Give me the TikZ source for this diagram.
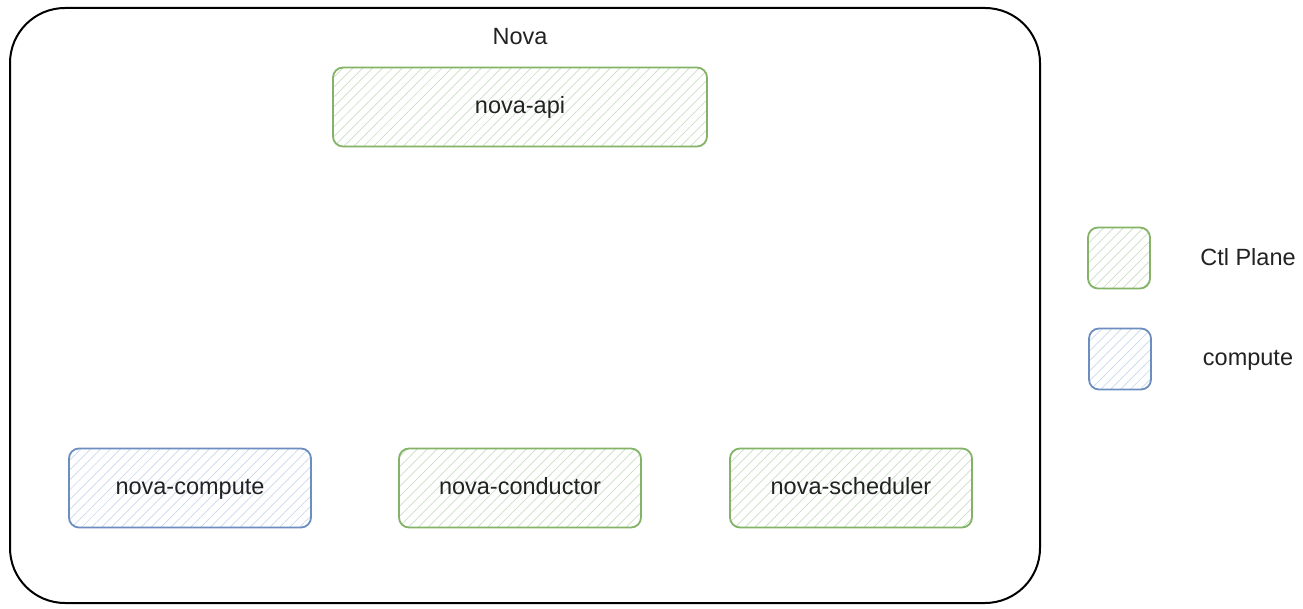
\documentclass[tikz,border=0pt]{standalone}
\usepackage{fontspec}
\setmainfont{Liberation Sans}
\usetikzlibrary{patterns.meta}

\definecolor{ctlgreen}{HTML}{82B366}
\definecolor{ctlhatch}{HTML}{C9DEC3}
\definecolor{cpublue}{HTML}{6C8EBF}
\definecolor{cpuhatch}{HTML}{C8D7EE}
\definecolor{inktext}{HTML}{222222}

\tikzset{
  every node/.style={font=\fontsize{23.5}{28}\selectfont, text=inktext,
    text height=1.55em, text depth=0.2em},
  svcbox/.style={draw, line width=1.8pt, rounded corners=10pt,
    minimum width=240pt, minimum height=79pt},
  ctlbox/.style={svcbox, draw=ctlgreen,
    pattern={Lines[angle=45,distance=7pt,line width=0.7pt]}, pattern color=ctlhatch},
  cpubox/.style={svcbox, draw=cpublue,
    pattern={Lines[angle=45,distance=7pt,line width=0.7pt]}, pattern color=cpuhatch},
  keybox/.style={minimum width=62pt, minimum height=61pt}
}

\begin{document}
\begin{tikzpicture}[x=1pt,y=-1pt]
  \useasboundingbox (0,0) rectangle (1303,609);
  % outer frame
  \node[draw, line width=2pt, rounded corners=55pt, minimum width=1030pt,
    minimum height=595pt] (nova) at (525,305.5) {};
  \node (novalabel) at (520,38) {Nova};
  % services
  \node[ctlbox, minimum width=374pt] (api) at (520,107) {nova-api};
  \node[cpubox, minimum width=242pt] (compute) at (190,488) {nova-compute};
  \node[ctlbox, minimum width=242pt] (conductor) at (520,488) {nova-conductor};
  \node[ctlbox, minimum width=242pt] (scheduler) at (851,488) {nova-scheduler};
  % legend
  \node[ctlbox, keybox] (keyctl) at (1119,258) {};
  \node (keyctltext) at (1248,259) {Ctl Plane};
  \node[cpubox, keybox] (keycpu) at (1120,359) {};
  \node (keycputext) at (1248,359) {compute};
\end{tikzpicture}
\end{document}
